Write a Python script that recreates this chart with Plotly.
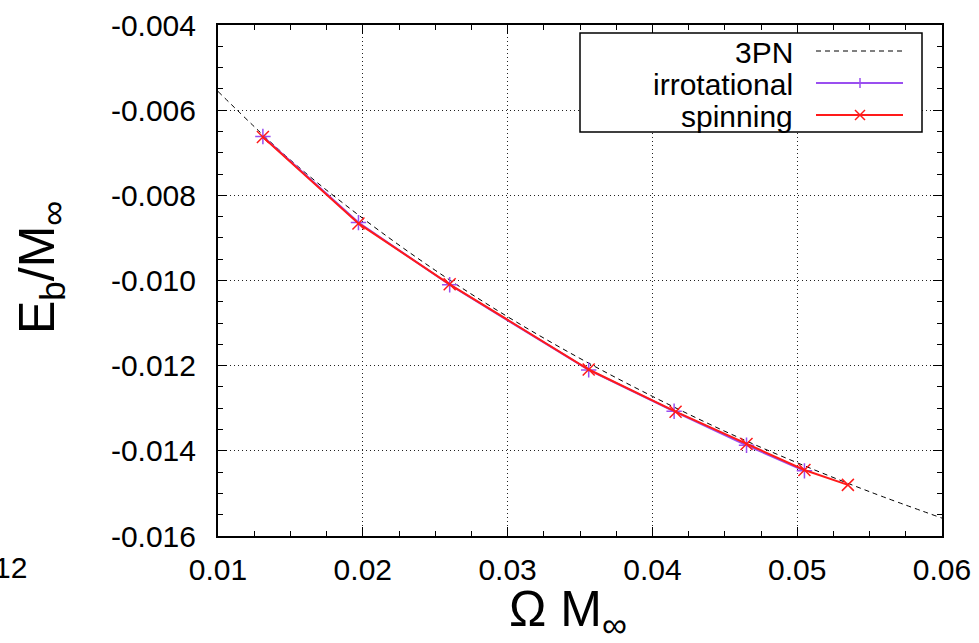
import plotly.graph_objects as go

# ---------------- data ----------------
pn3_omega = [0.010, 0.015, 0.020, 0.025, 0.030, 0.035, 0.040, 0.045, 0.050, 0.055, 0.060]
pn3_eb = [-0.00556, -0.00717, -0.00854, -0.00976, -0.01085, -0.01183, -0.01272,
          -0.01354, -0.01428, -0.01496, -0.01558]

irr_omega = [0.0131, 0.0197, 0.0260, 0.0356, 0.0415, 0.0465, 0.0505]
irr_eb = [-0.00662, -0.00864, -0.01010, -0.01210, -0.01307, -0.01387, -0.01447]

spin_omega = [0.0131, 0.0197, 0.0260, 0.0356, 0.0416, 0.0465, 0.0505, 0.0535]
spin_eb = [-0.00663, -0.00866, -0.01009, -0.01209, -0.01308, -0.01384, -0.01445, -0.01480]

x_tickvals = [0.01, 0.02, 0.03, 0.04, 0.05, 0.06]
x_ticktext = ["0.01", "0.02", "0.03", "0.04", "0.05", "0.06"]
y_tickvals = [-0.016, -0.014, -0.012, -0.010, -0.008, -0.006, -0.004]
y_ticktext = ["-0.016", "-0.014", "-0.012", "-0.010", "-0.008", "-0.006", "-0.004"]

legend_names = ["3PN", "irrotational", "spinning"]

# ---------------- layout geometry ----------------
W, H = 979, 643
L, T, R, B = 218, 25, 942, 536
PW, PH = R - L, B - T


def px(x):
    return (x - L) / PW


def py(y):
    return (B - y) / PH


FONT = "Liberation Sans, Arial, Helvetica, sans-serif"
PURPLE = "#9a4ff0"
RED = "#ff1a1a"

fig = go.Figure()

fig.add_trace(go.Scatter(
    x=pn3_omega, y=pn3_eb, mode="lines", name=legend_names[0],
    line=dict(color="black", width=1, dash="5px,4px", shape="spline"),
    showlegend=False))

fig.add_trace(go.Scatter(
    x=irr_omega, y=irr_eb, mode="lines+markers", name=legend_names[1],
    line=dict(color=PURPLE, width=2),
    marker=dict(symbol="cross-thin", size=11, line=dict(color=PURPLE, width=1.5)),
    showlegend=False))

fig.add_trace(go.Scatter(
    x=spin_omega, y=spin_eb, mode="lines+markers", name=legend_names[2],
    line=dict(color=RED, width=2),
    marker=dict(symbol="x-thin", size=12, line=dict(color=RED, width=1.5)),
    showlegend=False))

axis_common = dict(
    showline=True, linecolor="black", linewidth=2, mirror="ticks",
    ticks="inside", ticklen=9, tickwidth=1, tickcolor="black",
    showgrid=True, gridcolor="#222222", gridwidth=1, griddash="1px,3px",
    zeroline=False,
    tickfont=dict(family=FONT, size=30, color="black"),
)

fig.update_xaxes(
    range=[0.01, 0.06], tickmode="array", tickvals=x_tickvals, ticktext=x_ticktext,
    minor=dict(ticks="inside", ticklen=5, dtick=0.0025, tick0=0.01, tickcolor="black", showgrid=False),
    ticklabelstandoff=6,
    **axis_common)
fig.update_yaxes(
    range=[-0.016, -0.004], tickmode="array", tickvals=y_tickvals, ticktext=y_ticktext,
    minor=dict(ticks="inside", ticklen=5, dtick=0.0005, tick0=-0.016, tickcolor="black", showgrid=False),
    ticklabelstandoff=14,
    **axis_common)

shapes = []
annotations = []

# legend box
shapes.append(dict(type="rect", xref="paper", yref="paper",
                   x0=px(580), x1=px(922), y0=py(132), y1=py(33),
                   line=dict(color="black", width=1.5), fillcolor="white", layer="above"))

rows = [51, 83, 115]
lx0, lx1, lxm = 816, 903, 860
styles = [("black", 1, "5px,4px"), (PURPLE, 2, "solid"), (RED, 2, "solid")]
for name, ry, (col, w, dsh) in zip(legend_names, rows, styles):
    annotations.append(dict(xref="paper", yref="paper", x=px(795), y=py(ry + 1),
                            xanchor="right", yanchor="middle", text=name, showarrow=False,
                            font=dict(family=FONT, size=30, color="black")))
    shapes.append(dict(type="line", xref="paper", yref="paper",
                       x0=px(lx0), x1=px(lx1), y0=py(ry), y1=py(ry),
                       line=dict(color=col, width=w, dash=dsh), layer="above"))

# legend marker glyphs
s = 5
shapes.append(dict(type="line", xref="paper", yref="paper", x0=px(lxm), x1=px(lxm),
                   y0=py(rows[1] - s), y1=py(rows[1] + s), line=dict(color=PURPLE, width=1.5), layer="above"))
shapes.append(dict(type="line", xref="paper", yref="paper", x0=px(lxm - s), x1=px(lxm + s),
                   y0=py(rows[1]), y1=py(rows[1]), line=dict(color=PURPLE, width=1.5), layer="above"))
shapes.append(dict(type="line", xref="paper", yref="paper", x0=px(lxm - s), x1=px(lxm + s),
                   y0=py(rows[2] - s), y1=py(rows[2] + s), line=dict(color=RED, width=1.5), layer="above"))
shapes.append(dict(type="line", xref="paper", yref="paper", x0=px(lxm - s), x1=px(lxm + s),
                   y0=py(rows[2] + s), y1=py(rows[2] - s), line=dict(color=RED, width=1.5), layer="above"))

# axis titles
annotations.append(dict(xref="paper", yref="paper", x=px(568), y=py(612),
                        xanchor="center", yanchor="middle", showarrow=False,
                        text="Ω M<sub>∞</sub>",
                        font=dict(family=FONT, size=50, color="black")))
annotations.append(dict(xref="paper", yref="paper", x=px(40), y=py(268),
                        xanchor="center", yanchor="middle", showarrow=False, textangle=-90,
                        text="E<sub>b</sub>/M<sub>∞</sub>",
                        font=dict(family=FONT, size=50, color="black")))
# clipped label fragment at left edge
annotations.append(dict(xref="paper", yref="paper", x=px(29), y=py(567),
                        xanchor="right", yanchor="middle", showarrow=False,
                        text="12", font=dict(family=FONT, size=30, color="black")))

fig.update_layout(
    width=W, height=H,
    margin=dict(l=L, r=W - R, t=T, b=H - B, autoexpand=False),
    paper_bgcolor="white", plot_bgcolor="white",
    showlegend=False,
    shapes=shapes, annotations=annotations,
)

fig.write_html("out.html")
